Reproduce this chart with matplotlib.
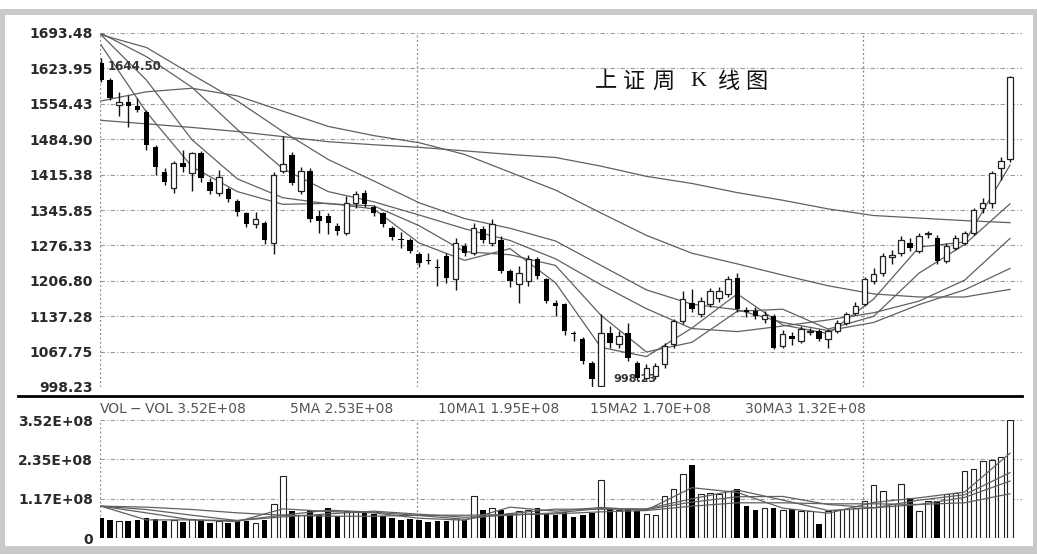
import numpy as np
import matplotlib.pyplot as plt
from matplotlib.patches import Rectangle
from matplotlib.lines import Line2D

plt.rcParams['font.family'] = ['DejaVu Sans']

# 上证指数周K线 (开, 高, 低, 收)
opens = [1634, 1601, 1552, 1557, 1550, 1538, 1469, 1420, 1390, 1439,
         1418, 1457, 1400, 1380, 1388, 1364, 1339, 1319, 1321, 1282,
         1423, 1453, 1384, 1423, 1334, 1335, 1315, 1300, 1359, 1380,
         1351, 1339, 1311, 1289, 1286, 1260, 1248, 1234, 1256, 1211,
         1276, 1262, 1309, 1282, 1286, 1227, 1201, 1207, 1250, 1211,
         1164, 1161, 1105, 1093, 1045, 1000, 1105, 1083, 1105, 1045,
         1016, 1020, 1043, 1083, 1128, 1163, 1142, 1161, 1173, 1181,
         1213, 1150, 1148, 1132, 1138, 1079, 1098, 1089, 1106, 1108,
         1093, 1108, 1124, 1144, 1161, 1207, 1223, 1254, 1262, 1282,
         1266, 1298, 1291, 1246, 1272, 1282, 1300, 1349, 1359, 1429, 1447]
highs = [1644.5, 1605, 1578, 1572, 1565, 1542, 1473, 1428, 1443, 1463,
         1460, 1462, 1408, 1425, 1392, 1368, 1342, 1342, 1325, 1420,
         1492, 1460, 1430, 1428, 1345, 1340, 1320, 1374, 1384, 1386,
         1356, 1342, 1315, 1303, 1290, 1264, 1262, 1250, 1262, 1290,
         1282, 1321, 1315, 1328, 1295, 1230, 1236, 1258, 1254, 1213,
         1170, 1164, 1108, 1096, 1049, 1142, 1118, 1108, 1124, 1049,
         1043, 1045, 1085, 1132, 1187, 1191, 1175, 1192, 1195, 1217,
         1223, 1155, 1156, 1148, 1142, 1110, 1106, 1118, 1114, 1112,
         1112, 1130, 1146, 1165, 1215, 1232, 1262, 1268, 1295, 1290,
         1300, 1305, 1296, 1282, 1297, 1305, 1350, 1370, 1422, 1450, 1609]
lows = [1597, 1561, 1530, 1508, 1538, 1463, 1414, 1395, 1380, 1420,
        1384, 1400, 1378, 1374, 1362, 1335, 1313, 1311, 1280, 1260,
        1418, 1394, 1378, 1322, 1300, 1299, 1296, 1296, 1350, 1352,
        1334, 1313, 1287, 1272, 1262, 1233, 1240, 1197, 1203, 1189,
        1256, 1258, 1282, 1276, 1222, 1195, 1164, 1197, 1210, 1163,
        1138, 1100, 1089, 1043, 998.23, 999, 1075, 1075, 1050, 1012,
        1012, 1014, 1035, 1075, 1122, 1146, 1135, 1155, 1165, 1175,
        1146, 1136, 1132, 1124, 1072, 1074, 1080, 1085, 1100, 1088,
        1075, 1104, 1120, 1140, 1157, 1200, 1216, 1240, 1256, 1266,
        1262, 1290, 1240, 1242, 1268, 1278, 1296, 1340, 1350, 1405, 1440]
closes = [1601, 1565, 1558, 1550, 1542, 1473, 1430, 1400, 1439, 1430,
          1457, 1408, 1384, 1410, 1368, 1341, 1319, 1329, 1286, 1414,
          1437, 1398, 1423, 1329, 1325, 1321, 1305, 1360, 1378, 1358,
          1339, 1319, 1292, 1286, 1266, 1242, 1245, 1232, 1213, 1282,
          1262, 1311, 1286, 1319, 1227, 1207, 1223, 1250, 1217, 1168,
          1158, 1108, 1102, 1049, 1014, 1105, 1085, 1099, 1055, 1016,
          1035, 1040, 1079, 1128, 1171, 1152, 1167, 1187, 1187, 1211,
          1152, 1146, 1138, 1140, 1075, 1103, 1093, 1112, 1108, 1093,
          1108, 1124, 1142, 1158, 1211, 1221, 1256, 1258, 1286, 1272,
          1295, 1300, 1246, 1276, 1291, 1300, 1345, 1359, 1418, 1443, 1607]
# 成交量 (单位 1E+08)
volumes = [0.60, 0.55, 0.50, 0.52, 0.55, 0.60, 0.58, 0.50, 0.55, 0.48,
           0.58, 0.55, 0.45, 0.50, 0.45, 0.52, 0.50, 0.45, 0.55, 1.02,
           1.85, 0.80, 0.70, 0.83, 0.70, 0.90, 0.65, 0.82, 0.78, 0.80,
           0.72, 0.65, 0.60, 0.55, 0.58, 0.55, 0.48, 0.50, 0.52, 0.60,
           0.55, 1.26, 0.85, 0.90, 0.85, 0.75, 0.80, 0.85, 0.90, 0.75,
           0.70, 0.78, 0.62, 0.70, 0.75, 1.72, 0.90, 0.85, 0.88, 0.82,
           0.72, 0.70, 1.26, 1.45, 1.90, 2.19, 1.30, 1.35, 1.30, 1.40,
           1.45, 0.95, 0.83, 0.90, 0.90, 0.85, 0.88, 0.80, 0.80, 0.43,
           0.80, 0.85, 0.88, 0.90, 1.10, 1.57, 1.40, 1.00, 1.60, 1.20,
           0.80, 1.10, 1.10, 1.30, 1.35, 2.00, 2.06, 2.30, 2.34, 2.43, 3.52]

# 均线, 每5周取一点
ma_weeks = list(range(0, 101, 5))
ma5 = [1670, 1538, 1431, 1382, 1357, 1359, 1348, 1281, 1247, 1270, 1203,
       1076, 1058, 1114, 1181, 1120, 1103, 1171, 1273, 1283, 1434]
ma10 = [1690, 1601, 1484, 1407, 1370, 1358, 1354, 1315, 1264, 1258, 1237,
        1139, 1067, 1086, 1147, 1151, 1112, 1137, 1222, 1278, 1358]
ma20 = [1693, 1647, 1587, 1504, 1427, 1382, 1362, 1336, 1309, 1286, 1250,
        1199, 1152, 1113, 1107, 1118, 1130, 1144, 1167, 1208, 1290]
ma30 = [1690, 1665, 1612, 1560, 1500, 1445, 1403, 1360, 1329, 1310, 1285,
        1237, 1189, 1161, 1150, 1125, 1109, 1125, 1160, 1189, 1231]
ma60 = [1560, 1578, 1585, 1570, 1540, 1510, 1492, 1478, 1455, 1420, 1385,
        1340, 1296, 1261, 1240, 1218, 1197, 1181, 1175, 1175, 1190]
ma120 = [1522, 1515, 1508, 1500, 1490, 1480, 1474, 1469, 1462, 1455, 1449,
         1432, 1412, 1398, 1380, 1365, 1348, 1335, 1330, 1325, 1321]
vma5 = [0.95, 0.54, 0.54, 0.49, 0.87, 0.79, 0.75, 0.59, 0.53, 0.92, 0.80,
        0.91, 0.83, 1.50, 1.36, 0.89, 0.74, 1.06, 1.20, 1.37, 2.53]
vma10 = [0.95, 0.75, 0.54, 0.52, 0.68, 0.83, 0.77, 0.67, 0.56, 0.73, 0.86,
         0.86, 0.87, 1.17, 1.43, 1.13, 0.82, 0.90, 1.13, 1.29, 1.95]
vma15 = [0.95, 0.85, 0.68, 0.52, 0.63, 0.72, 0.80, 0.71, 0.62, 0.68, 0.75,
         0.88, 0.85, 1.07, 1.23, 1.24, 1.00, 0.90, 1.00, 1.21, 1.70]
vma30 = [0.95, 0.92, 0.85, 0.75, 0.68, 0.65, 0.65, 0.68, 0.68, 0.70, 0.72,
         0.78, 0.82, 0.95, 1.05, 1.05, 1.02, 1.02, 1.00, 1.05, 1.32]

price_ticks = [998.23, 1067.75, 1137.28, 1206.80, 1276.33, 1345.85,
               1415.38, 1484.90, 1554.43, 1623.95, 1693.48]
vol_ticks = [0, 1.173, 2.347, 3.52]
vol_labels = ["0", "1.17E+08", "2.35E+08", "3.52E+08"]
vol_header = ["VOL", "\u2212", "VOL 3.52E+08", "5MA 2.53E+08", "10MA1 1.95E+08",
              "15MA2 1.70E+08", "30MA3 1.32E+08"]
title_chars = ["上", "证", "周", "K", "线", "图"]

W, H = 1037, 554
fig = plt.figure(figsize=(W / 100, H / 100), dpi=100)
fig.patch.set_facecolor('white')


def rect(x0, y0, x1, y1):
    return [x0 / W, 1 - y1 / H, (x1 - x0) / W, (y1 - y0) / H]


# 灰色边框
for x0, y0, x1, y1 in [(0, 9, W, 15), (0, 9, 5, H), (0, 546, W, H), (1033, 9, W, H)]:
    fig.add_artist(Rectangle((x0 / W, 1 - y1 / H), (x1 - x0) / W, (y1 - y0) / H,
                             transform=fig.transFigure, color='#c9c9c9', lw=0))

ax = fig.add_axes(rect(100, 33, 1022, 387))
axv = fig.add_axes(rect(100, 420, 1022, 538))

x = np.arange(len(closes))
o = np.array(opens)
c = np.array(closes)
up = c >= o
body_bot = np.minimum(o, c)
body_h = np.maximum(np.abs(c - o), 2.0)

grid_h = dict(color='#9a9a9a', lw=0.8, linestyle=(0, (4, 2, 1, 2)), zorder=0)
grid_v = dict(color='#8a8a8a', lw=0.9, linestyle=(0, (1.5, 2)), zorder=0)
vlines_at = [-0.1, 34.8, 83.8]

# K线
for t in price_ticks:
    ax.axhline(t, **grid_h)
for v in vlines_at:
    ax.axvline(v, **grid_v)
for ma in [ma5, ma10, ma20, ma30, ma60, ma120]:
    ax.plot(ma_weeks, ma, color='#606060', lw=0.9, zorder=2)
ax.vlines(x, lows, highs, color='#111111', lw=1.0, zorder=3)
ax.bar(x[up], body_h[up], bottom=body_bot[up], width=0.6, facecolor='white',
       edgecolor='#222222', lw=0.9, zorder=4)
ax.bar(x[~up], body_h[~up], bottom=body_bot[~up], width=0.6, color='black', zorder=4)
ax.text(0.7, 1628, "1644.50", fontsize=8.5, fontweight='bold', color='#333',
        va='center', ha='left', zorder=5)
ax.text(56.4, 1013, "998.23", fontsize=8, fontweight='bold', color='#333',
        va='center', ha='left', zorder=2)

ax.set_xlim(-0.11, 101.32)
ax.set_ylim(998.23, 1693.48)
ax.set_yticks(price_ticks)
ax.set_yticklabels(["%.2f" % t for t in price_ticks])
ax.set_xticks([])
ax.tick_params(axis='y', length=0, pad=5, labelsize=10, labelcolor='#2a2a2a')
for lab in ax.get_yticklabels():
    lab.set_fontweight('bold')
for s in ax.spines.values():
    s.set_visible(False)

# 成交量
for t in vol_ticks[1:]:
    axv.axhline(t, **grid_h)
for v in vlines_at:
    axv.axvline(v, **grid_v)
vol = np.array(volumes)
axv.bar(x[up], vol[up], width=0.62, facecolor='white', edgecolor='#222222', lw=0.8, zorder=3)
axv.bar(x[~up], vol[~up], width=0.62, color='black', zorder=3)
for vm in [vma5, vma10, vma15, vma30]:
    axv.plot(ma_weeks, vm, color='#606060', lw=0.9, zorder=4)
axv.set_xlim(-0.11, 101.32)
axv.set_ylim(0, 3.52)
axv.set_yticks(vol_ticks)
axv.set_yticklabels(vol_labels)
axv.set_xticks([])
axv.tick_params(axis='y', length=0, pad=5, labelsize=10, labelcolor='#2a2a2a')
for lab in axv.get_yticklabels():
    lab.set_fontweight('bold')
for s in axv.spines.values():
    s.set_visible(False)

# 分隔线
fig.add_artist(Line2D([18 / W, 1022 / W], [1 - 396 / H, 1 - 396 / H],
                      transform=fig.transFigure, color='black', lw=2))

# 成交量标题
for txt, px in zip(vol_header, [100, 130, 145, 290, 438, 590, 745]):
    fig.text(px / W, 1 - 409 / H, txt, fontsize=10, color='#555555',
             va='center', ha='left')

# 图标题
for ch, px in zip(title_chars, [606, 634, 663, 698, 729, 756]):
    fam = ['Liberation Serif'] if ch == "K" else ['Noto Sans CJK SC', 'DejaVu Sans']
    fig.text(px / W, 1 - 81 / H, ch, fontsize=16, family=fam, color='#111111',
             va='center', ha='center')

fig.savefig('out.png', dpi=100, facecolor='white')
